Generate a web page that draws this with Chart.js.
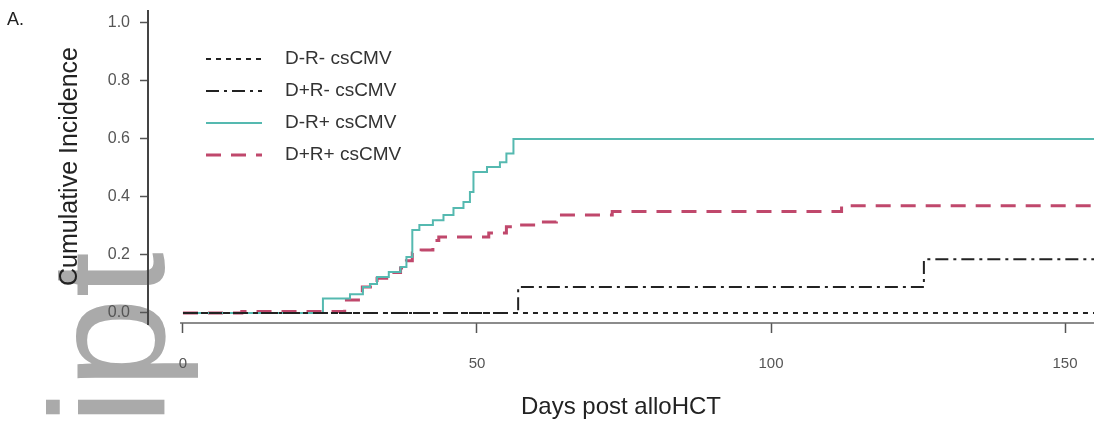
<!DOCTYPE html>
<html>
<head>
<meta charset="utf-8">
<title>Cumulative incidence of csCMV</title>
<script src="https://cdn.jsdelivr.net/npm/chart.js@4"></script>
<style>
  html, body { margin: 0; padding: 0; background: #fff; overflow: hidden; }
  #wrap { width: 1094px; height: 422px; position: relative; }
  canvas { display: block; }
</style>
</head>
<body>
<div id="wrap"><canvas id="ci-chart" width="1094" height="422"></canvas></div>
<script>
// tick labels
const dayTicks = [0, 50, 100, 150];
const incidenceTicks = [0, 0.2, 0.4, 0.6, 0.8, 1.0];

const seriesNames = ['D-R- csCMV', 'D+R- csCMV', 'D-R+ csCMV', 'D+R+ csCMV'];

// D-R-
const dnrnDays = [0, 155];
const dnrnCI = [0, 0];

// D+R-
const dprnDays = [0, 57, 126, 155];
const dprnCI = [0, 0.09, 0.185, 0.185];

// D-R+
const dnrpDays = [0, 23.8, 28.4, 30.6, 31.8, 33, 35, 37, 38, 39, 40.2, 42.5, 44.3, 46, 47.7, 48.8, 49.4, 51.7, 53.9, 55, 56.2, 155];
const dnrpCI = [0, 0.05, 0.065, 0.09, 0.10, 0.124, 0.141, 0.159, 0.193, 0.286, 0.303, 0.32, 0.338, 0.362, 0.383, 0.417, 0.486, 0.503, 0.52, 0.55, 0.6, 0.6];

// D+R+
const dprpDays = [0, 10, 27.5, 30.5, 33, 35, 37, 38, 39, 40.5, 42.5, 43.5, 52, 55, 56.5, 60, 63.5, 73, 112, 155];
const dprpCI = [0, 0.005, 0.045, 0.09, 0.12, 0.14, 0.155, 0.18, 0.207, 0.217, 0.25, 0.262, 0.276, 0.297, 0.303, 0.314, 0.338, 0.35, 0.37, 0.37];

const toPoints = (days, ci) => days.map((d, i) => ({ x: d, y: ci[i] }));

const FONT = "'Liberation Sans', Arial, Helvetica, sans-serif";

// gray watermark + panel letter, drawn under everything
const backdrop = {
  id: 'backdrop',
  beforeDraw(chart) {
    const ctx = chart.ctx;
    ctx.save();
    ctx.translate(164, 252);
    ctx.rotate(-Math.PI / 2);
    ctx.font = '164px ' + FONT;
    ctx.fillStyle = '#aaaaaa';
    ctx.textAlign = 'right';
    ctx.textBaseline = 'alphabetic';
    ctx.fillText('Author Manuscript', 0, 0);
    ctx.restore();

    ctx.save();
    ctx.font = '18px ' + FONT;
    ctx.fillStyle = '#222';
    ctx.textBaseline = 'top';
    ctx.fillText('A.', 7, 11);
    ctx.restore();
  }
};

// R-style axis lines + legend in the upper left
const axesAndLegend = {
  id: 'axesAndLegend',
  afterDraw(chart) {
    const ctx = chart.ctx;
    const { left, right, top, bottom } = chart.chartArea;
    const xs = chart.scales.x;
    ctx.save();
    ctx.strokeStyle = '#444';
    ctx.lineWidth = 2;
    ctx.beginPath();
    ctx.moveTo(left, top);
    ctx.lineTo(left, bottom + 2);
    ctx.stroke();
    ctx.lineWidth = 1.5;
    ctx.strokeStyle = '#666';
    ctx.beginPath();
    ctx.moveTo(xs.getPixelForValue(-0.5), bottom);
    ctx.lineTo(right, bottom);
    ctx.stroke();

    chart.data.datasets.forEach((ds, i) => {
      const y = 59 + i * 32;
      ctx.strokeStyle = ds.borderColor;
      ctx.lineWidth = ds.borderWidth;
      ctx.setLineDash(ds.borderDash || []);
      ctx.beginPath();
      ctx.moveTo(206, y);
      ctx.lineTo(262, y);
      ctx.stroke();
      ctx.setLineDash([]);
      ctx.fillStyle = '#333';
      ctx.font = '19px ' + FONT;
      ctx.textBaseline = 'middle';
      ctx.fillText(ds.label, 285, y);
    });
    ctx.restore();
  }
};

new Chart(document.getElementById('ci-chart'), {
  type: 'line',
  data: {
    datasets: [
      {
        label: seriesNames[0],
        data: toPoints(dnrnDays, dnrnCI),
        borderColor: '#222',
        borderWidth: 2,
        borderDash: [5, 5]
      },
      {
        label: seriesNames[1],
        data: toPoints(dprnDays, dprnCI),
        borderColor: '#222',
        borderWidth: 2,
        borderDash: [13, 5, 3, 5]
      },
      {
        label: seriesNames[2],
        data: toPoints(dnrpDays, dnrpCI),
        borderColor: '#55b9b0',
        borderWidth: 2
      },
      {
        label: seriesNames[3],
        data: toPoints(dprpDays, dprpCI),
        borderColor: '#c0486c',
        borderWidth: 3,
        borderDash: [15, 10]
      }
    ]
  },
  options: {
    responsive: false,
    animation: false,
    layout: { padding: { top: 10, right: 0, bottom: 0, left: 0 } },
    elements: {
      point: { radius: 0 },
      line: { stepped: true, tension: 0, fill: false }
    },
    plugins: {
      legend: { display: false },
      tooltip: { enabled: false }
    },
    scales: {
      x: {
        type: 'linear',
        min: -5.95,
        max: 154.93,
        afterFit: s => { s.height = 99; s.paddingLeft = 0; s.paddingRight = 0; },
        afterBuildTicks: s => { s.ticks = dayTicks.map(v => ({ value: v })); },
        border: { display: false },
        grid: { drawOnChartArea: false, drawTicks: true, tickLength: 10, tickColor: '#555', tickWidth: 1.5 },
        ticks: { color: '#555', padding: 22, font: { family: FONT, size: 15 } },
        title: {
          display: true,
          text: 'Days post alloHCT',
          color: '#222',
          font: { family: FONT, size: 24 },
          padding: { top: 0, bottom: 0 }
        }
      },
      y: {
        type: 'linear',
        min: -0.0345,
        max: 1.0448,
        afterFit: s => { s.width = 148; s.paddingTop = 0; s.paddingBottom = 0; },
        afterBuildTicks: s => { s.ticks = incidenceTicks.map(v => ({ value: v })); },
        border: { display: false },
        grid: { drawOnChartArea: false, drawTicks: true, tickLength: 8, tickColor: '#555', tickWidth: 1.5 },
        ticks: {
          color: '#555',
          padding: 10,
          font: { family: FONT, size: 16 },
          callback: v => v.toFixed(1)
        },
        title: {
          display: true,
          text: 'Cumulative Incidence',
          color: '#222',
          font: { family: FONT, size: 25 },
          padding: { top: 55, bottom: 0 }
        }
      }
    }
  },
  plugins: [backdrop, axesAndLegend]
});
</script>
</body>
</html>
